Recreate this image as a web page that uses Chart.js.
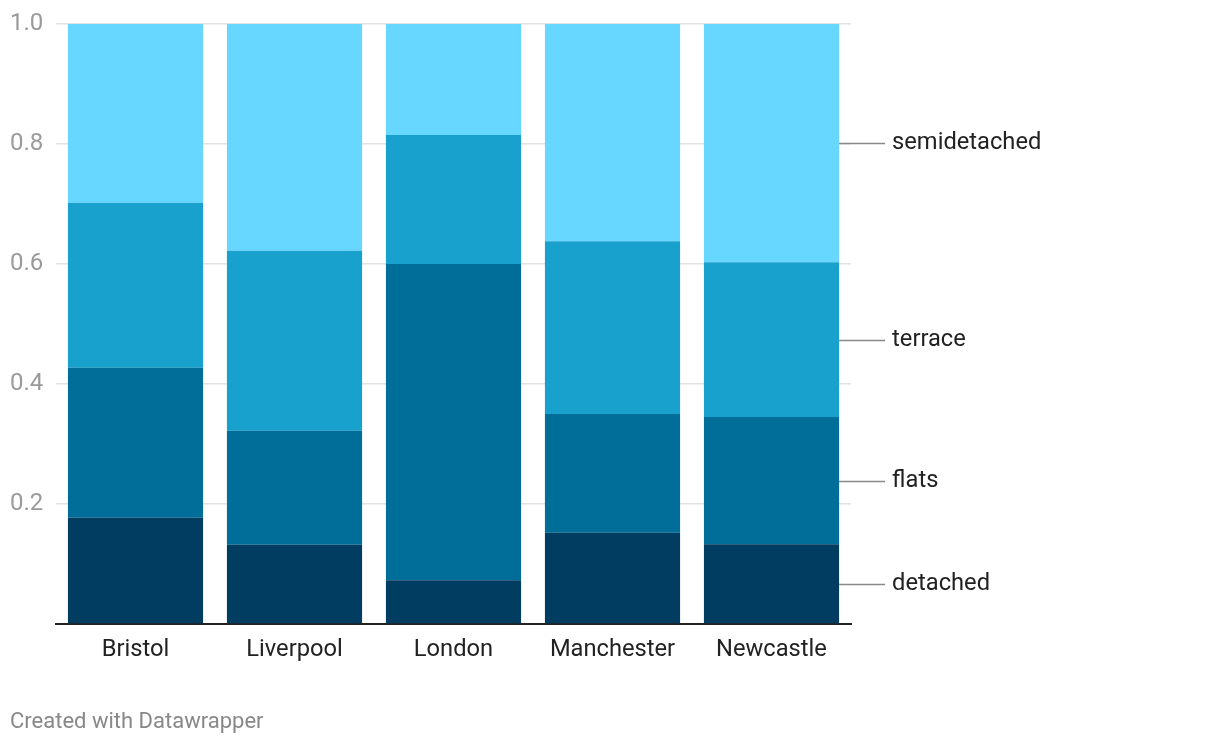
<!DOCTYPE html>
<html>
<head>
<meta charset="utf-8">
<script src="https://cdn.jsdelivr.net/npm/chart.js@4/dist/chart.umd.min.js"></script>
<style>
  html, body { margin: 0; padding: 0; background: #fff; }
  #wrap { width: 1220px; height: 744px; position: relative; }
</style>
</head>
<body>
<div id="wrap"><canvas id="myChart"></canvas></div>
<script>
var cities = ["Bristol", "Liverpool", "London", "Manchester", "Newcastle"];
var detached = [0.177, 0.132, 0.073, 0.152, 0.133];
var flats = [0.250, 0.190, 0.527, 0.198, 0.212];
var terrace = [0.275, 0.300, 0.215, 0.288, 0.258];
var semidetached = [0.298, 0.378, 0.185, 0.362, 0.397];
var yTicks = [0, 0.2, 0.4, 0.6, 0.8, 1.0];
var seriesNames = ["detached", "flats", "terrace", "semidetached"];
var barColors = ["#003d60", "#006e98", "#19a1cd", "#67d7ff"];

Chart.defaults.font.family = "Roboto, 'Noto Sans', sans-serif";

// labels at the right of the last bar, like datawrapper does
var endLabels = {
    id: "endLabels",
    afterDatasetsDraw: function (chart) {
        var ctx = chart.ctx;
        ctx.save();
        chart.data.datasets.forEach(function (ds, i) {
            var meta = chart.getDatasetMeta(i);
            var bar = meta.data[meta.data.length - 1];
            var x0 = bar.x + bar.width / 2;
            var y = Math.round((bar.y + bar.base) / 2) + 0.5;
            ctx.strokeStyle = "#888";
            ctx.lineWidth = 1.5;
            ctx.beginPath();
            ctx.moveTo(x0, y);
            ctx.lineTo(x0 + 46, y);
            ctx.stroke();
            ctx.fillStyle = "#222";
            ctx.font = "23.7px Roboto";
            ctx.textAlign = "left";
            ctx.textBaseline = "middle";
            ctx.fillText(ds.label, x0 + 53, y);
        });
        ctx.fillStyle = "#888";
        ctx.font = "22px Roboto";
        ctx.textBaseline = "middle";
        ctx.fillText("Created with Datawrapper", 10, 722);
        ctx.restore();
    }
};

var values = [detached, flats, terrace, semidetached];

new Chart("myChart", {
    type: "bar",
    data: {
        labels: cities,
        datasets: values.map(function (v, i) {
            return {
                label: seriesNames[i],
                data: v,
                backgroundColor: barColors[i],
                borderWidth: 0,
                categoryPercentage: 1,
                barPercentage: 0.85
            };
        })
    },
    options: {
        responsive: true,
        maintainAspectRatio: false,
        animation: false,
        layout: { padding: { left: 10, right: 369, top: 24, bottom: 70 } },
        plugins: {
            legend: { display: false },
            tooltip: { enabled: false }
        },
        scales: {
            x: {
                stacked: true,
                grid: { display: false, drawTicks: false },
                border: { display: true, color: "#222", width: 2 },
                ticks: { color: "#222", font: { size: 23.7 }, padding: 12 },
                afterFit: function (s) { s.height = 50; }
            },
            y: {
                stacked: true,
                min: 0,
                max: 1,
                afterBuildTicks: function (s) {
                    s.ticks = yTicks.map(function (v) { return { value: v }; });
                },
                grid: { color: "#e2e2e2", lineWidth: 1.5, drawTicks: false },
                border: { display: false },
                ticks: {
                    color: "#9a9a9a",
                    font: { size: 24, lineHeight: 1 },
                    crossAlign: "far",
                    padding: 12,
                    callback: function (v) { return v === 0 ? "" : v.toFixed(1); }
                },
                afterFit: function (s) { s.width = 46; }
            }
        }
    },
    plugins: [endLabels]
});
</script>
</body>
</html>
